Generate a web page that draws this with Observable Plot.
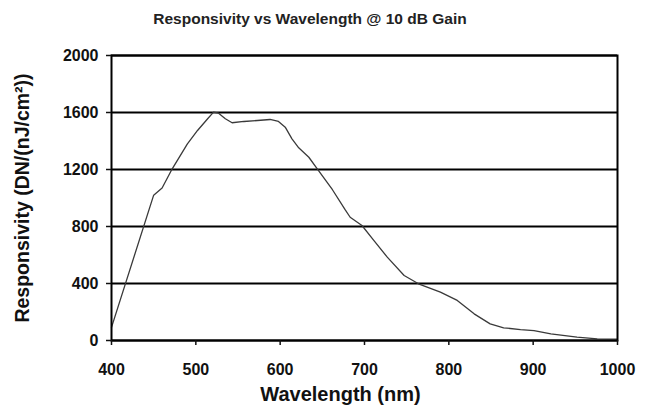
<!DOCTYPE html>
<html>
<head>
<meta charset="utf-8">
<script src="https://cdn.jsdelivr.net/npm/d3@7"></script>
<script src="https://cdn.jsdelivr.net/npm/@observablehq/plot@0.6"></script>
<style>
  body { margin: 0; background: #fff; }
  #title { width: 645px; box-sizing: border-box; padding-left: 0px; padding-right: 25px;
           text-align: center; height: 38px; line-height: 38px;
           font-family: "Liberation Sans", Arial, sans-serif; font-weight: bold; font-size: 15.5px; color: #222; }
</style>
</head>
<body>
<div id="title">Responsivity vs Wavelength @ 10 dB Gain</div>
<div id="chart"></div>
<script>
const wavelength = [400, 450, 460, 472, 490, 502, 514, 521, 527, 535, 543, 557, 573, 588, 598, 606, 614, 622, 634, 644, 662, 677, 683, 697, 711, 727, 747, 764, 790, 810, 830, 849, 865, 885, 901, 921, 952, 976, 1000];
const responsivity = [92, 1020, 1070, 1205, 1380, 1474, 1556, 1603, 1595, 1556, 1528, 1537, 1544, 1551, 1537, 1497, 1415, 1352, 1286, 1205, 1058, 918, 865, 807, 702, 585, 456, 398, 339, 281, 187, 117, 89, 77, 70, 47, 23, 12, 10];
const xTicks = [400, 500, 600, 700, 800, 900, 1000];
const yTicks = [0, 400, 800, 1200, 1600, 2000];
const xLabel = "Wavelength (nm)";
const yLabel = "Responsivity (DN/(nJ/cm²))";

const data = wavelength.map((w, i) => ({w, r: responsivity[i]}));

const chart = Plot.plot({
  width: 645,
  height: 369,
  marginTop: 17,
  marginBottom: 67,
  marginLeft: 111,
  marginRight: 28,
  style: {fontFamily: "'Liberation Sans', Arial, sans-serif", color: "#111", background: "#fff", fontWeight: "bold"},
  x: {domain: [400, 1000]},
  y: {domain: [0, 2000]},
  marks: [
    Plot.gridY(yTicks, {stroke: "#000", strokeOpacity: 1, strokeWidth: 2}),
    Plot.line(data, {x: "w", y: "r", stroke: "#3a3a3a", strokeWidth: 1.3}),
    Plot.frame({stroke: "#000", strokeWidth: 2}),
    Plot.axisX(xTicks, {tickSize: 5, tickPadding: 18, fontSize: 16, label: null, strokeWidth: 1.5, tickFormat: d3.format("d")}),
    Plot.axisY(yTicks, {tickSize: 5, tickPadding: 8, fontSize: 16, label: null, strokeWidth: 1.5, tickFormat: d3.format("d")}),
    Plot.text([xLabel], {text: d => d, frameAnchor: "bottom", textAnchor: "middle", lineAnchor: "middle", dy: 54, dx: -24, fontSize: 20, fontWeight: "bold", fill: "#111"}),
    Plot.text([yLabel], {text: d => d, frameAnchor: "left", textAnchor: "middle", lineAnchor: "middle", rotate: -90, dx: -89, fontSize: 19.5, fontWeight: "bold", fill: "#111"})
  ]
});
document.getElementById("chart").appendChild(chart);
</script>
</body>
</html>
